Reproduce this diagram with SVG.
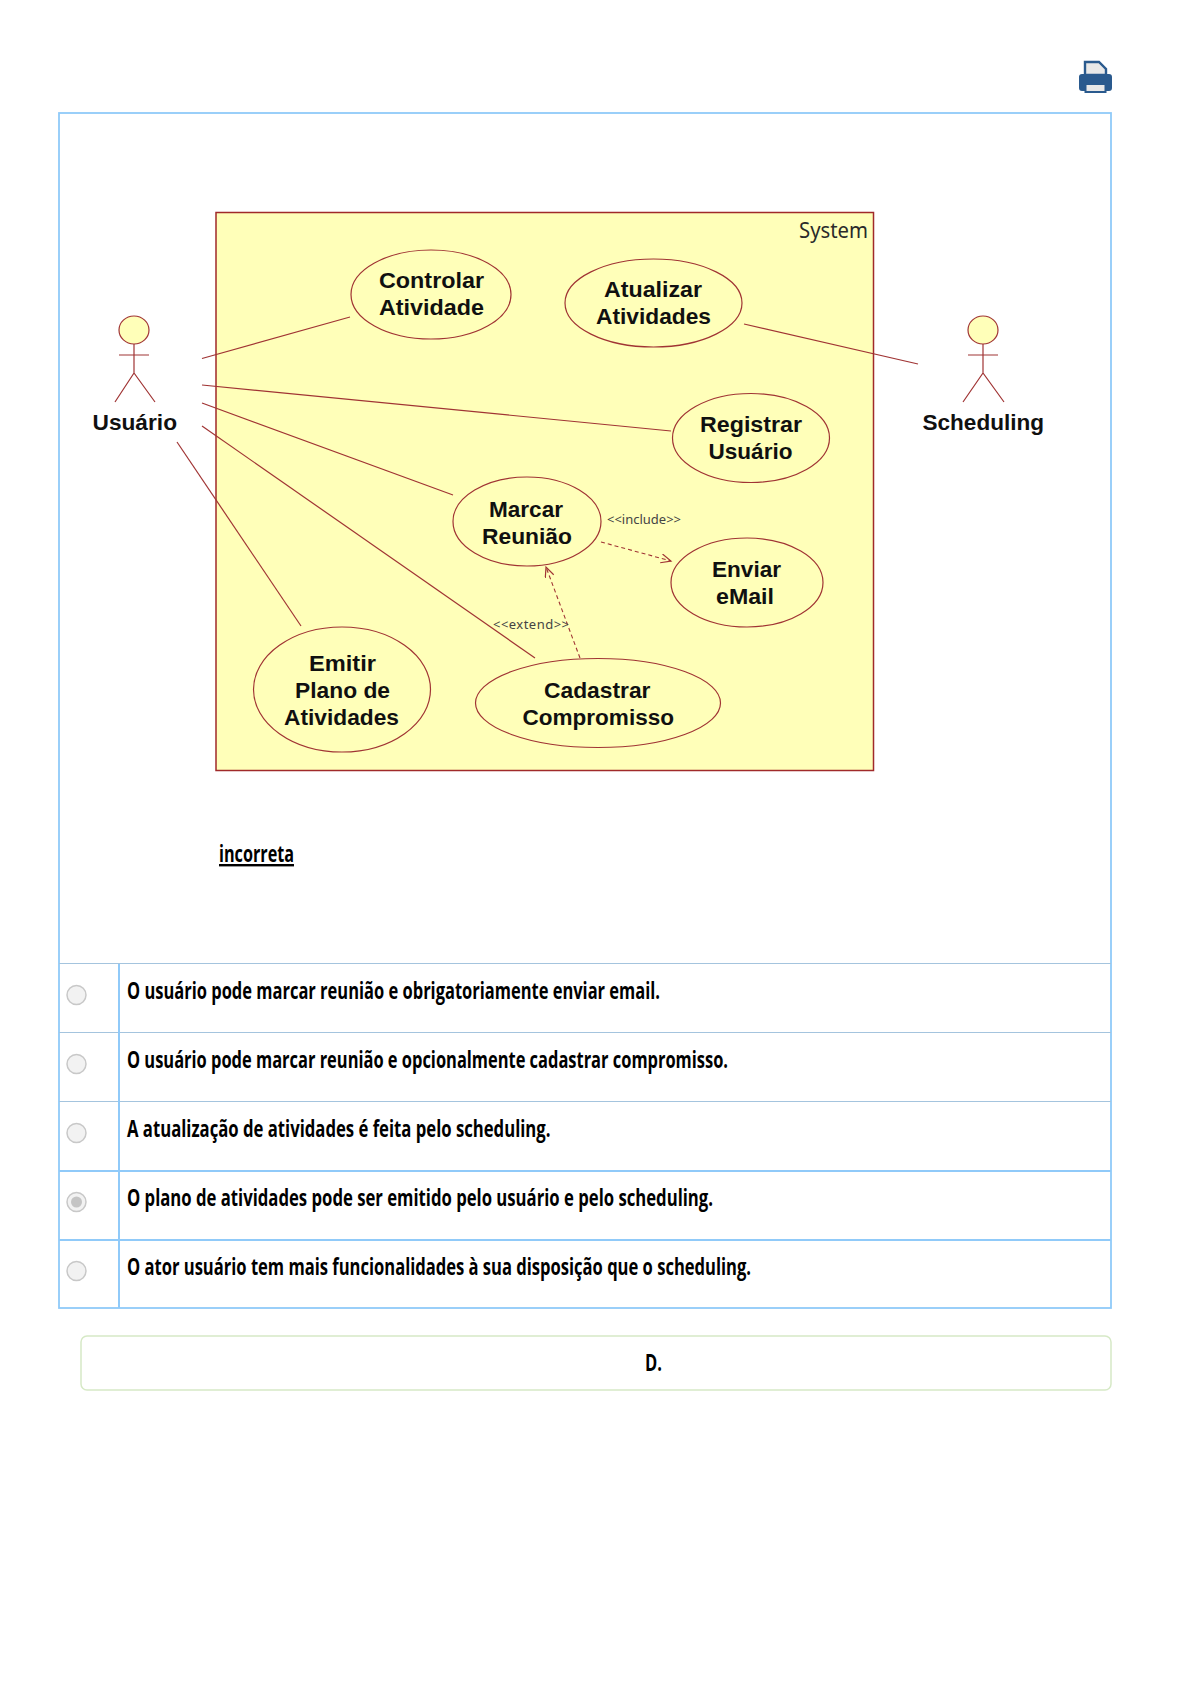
<svg xmlns="http://www.w3.org/2000/svg" width="1190" height="1684" viewBox="0 0 1190 1684">
<style>
.uc{fill:#ffffb9;stroke:#a03434;stroke-width:1.2}
.lbl{font-family:"Liberation Sans","Noto Sans",sans-serif;font-weight:700;font-size:22px;fill:#101010}
.ln{stroke:#a03434;stroke-width:1.2;fill:none}
.dash{stroke:#a03434;stroke-width:1.1;fill:none;stroke-dasharray:4 3}
.st{font-family:"Noto Sans",sans-serif;font-size:13px;fill:#444}
.sys{font-family:"Noto Sans",sans-serif;font-size:21px;fill:#2a2a2a}
.opt{font-family:"Open Sans","Noto Sans",sans-serif;font-weight:700;font-size:24px;fill:#000}
.row{stroke:#90caf9;stroke-width:2}
.rowt{stroke:#a4c4de;stroke-width:1}
.radio{fill:#f2f2f2;stroke:#c8c8c8;stroke-width:1.5}
</style>
<defs>
<marker id="open" markerWidth="14" markerHeight="12" refX="11" refY="5" orient="auto" markerUnits="userSpaceOnUse"><path d="M1 0.5 L11 5 L1 9.5" fill="none" stroke="#a03434" stroke-width="1.2"/></marker>
</defs>
<rect width="1190" height="1684" fill="#fff"/>

<g id="printer">
<path d="M1085 62h14l7 7v6h-21z" fill="#e8e8e8" stroke="#2a5a8e" stroke-width="2.4"/>
<path d="M1082 74h27q3 0 3 3v11q0 3-3 3h-3v-6h-21v6h-3q-3 0-3-3v-11q0-3 3-3z" fill="#2a5a8e"/>
<rect x="1085.500" y="84" width="20" height="8" fill="#e8e8e8" stroke="#2a5a8e" stroke-width="2"/>
</g>

<g id="panel">
<rect x="59" y="113" width="1052" height="1195" fill="#fff" stroke="#90caf9" stroke-width="1.8"/>
<line class="rowt" x1="59" y1="963.500" x2="1111" y2="963.500"/>
<line class="rowt" x1="59" y1="1032.500" x2="1111" y2="1032.500"/>
<line class="rowt" x1="59" y1="1101.500" x2="1111" y2="1101.500"/>
<line class="row" x1="59" y1="1171" x2="1111" y2="1171"/>
<line class="row" x1="59" y1="1240" x2="1111" y2="1240"/>
<line class="row" x1="119" y1="964" x2="119" y2="1308"/>
</g>

<g id="system">
<rect x="216" y="212.500" width="657.500" height="558" fill="#ffffb9" stroke="#a02a2a" stroke-width="1.5"/>
<text class="sys" x="799" y="238" textLength="69" lengthAdjust="spacingAndGlyphs">System</text>
</g>

<g id="connectors">
<line class="ln" x1="202" y1="358.500" x2="350" y2="317"/>
<line class="ln" x1="202" y1="385" x2="671" y2="431"/>
<line class="ln" x1="202" y1="403" x2="453" y2="495"/>
<line class="ln" x1="202" y1="426" x2="535" y2="658"/>
<line class="ln" x1="177" y1="442" x2="301" y2="626"/>
<line class="ln" x1="744" y1="324" x2="918" y2="364"/>
<line class="dash" x1="601" y1="542" x2="671" y2="561" marker-end="url(#open)"/>
<line class="dash" x1="580" y1="658" x2="546" y2="567" marker-end="url(#open)"/>
<text class="st" x="607" y="524" textLength="74" lengthAdjust="spacing">&lt;&lt;include&gt;&gt;</text>
<text class="st" x="493" y="629" textLength="76" lengthAdjust="spacing">&lt;&lt;extend&gt;&gt;</text>
</g>

<g id="actor-usuario">
<ellipse class="uc" cx="134" cy="330" rx="15" ry="14"/>
<path class="ln" d="M134 344V373M119 355H149M115 402L134 373L155 402"/>
<text class="lbl" x="92.500" y="430" textLength="84.500" lengthAdjust="spacingAndGlyphs">Usuário</text>
</g>
<g id="actor-scheduling">
<ellipse class="uc" cx="983" cy="330" rx="15" ry="14"/>
<path class="ln" d="M983 344V373M968 355H998M963 402L983 373L1004 402"/>
<text class="lbl" x="922.500" y="430" textLength="121.500" lengthAdjust="spacingAndGlyphs">Scheduling</text>
</g>

<g id="uc-controlar">
<ellipse class="uc" cx="431" cy="294.500" rx="80" ry="44.500"/>
<text class="lbl" x="379" y="288" textLength="105" lengthAdjust="spacingAndGlyphs">Controlar</text>
<text class="lbl" x="379" y="315" textLength="105" lengthAdjust="spacingAndGlyphs">Atividade</text>
</g>
<g id="uc-atualizar">
<ellipse class="uc" cx="653.500" cy="303" rx="88.500" ry="44"/>
<text class="lbl" x="604" y="297" textLength="98" lengthAdjust="spacingAndGlyphs">Atualizar</text>
<text class="lbl" x="596" y="324" textLength="115" lengthAdjust="spacingAndGlyphs">Atividades</text>
</g>
<g id="uc-registrar">
<ellipse class="uc" cx="751" cy="438" rx="78.500" ry="44.500"/>
<text class="lbl" x="700" y="432" textLength="102" lengthAdjust="spacingAndGlyphs">Registrar</text>
<text class="lbl" x="708.500" y="459" textLength="84" lengthAdjust="spacingAndGlyphs">Usuário</text>
</g>
<g id="uc-marcar">
<ellipse class="uc" cx="527" cy="521.500" rx="74" ry="44.500"/>
<text class="lbl" x="489" y="517" textLength="74" lengthAdjust="spacingAndGlyphs">Marcar</text>
<text class="lbl" x="482" y="543.500" textLength="90" lengthAdjust="spacingAndGlyphs">Reunião</text>
</g>
<g id="uc-enviar">
<ellipse class="uc" cx="747" cy="582.500" rx="76" ry="44.500"/>
<text class="lbl" x="712" y="577" textLength="69" lengthAdjust="spacingAndGlyphs">Enviar</text>
<text class="lbl" x="716" y="603.500" textLength="58" lengthAdjust="spacingAndGlyphs">eMail</text>
</g>
<g id="uc-emitir">
<ellipse class="uc" cx="342" cy="689.500" rx="88.500" ry="62.500"/>
<text class="lbl" x="309" y="671" textLength="67" lengthAdjust="spacingAndGlyphs">Emitir</text>
<text class="lbl" x="295" y="698" textLength="95" lengthAdjust="spacingAndGlyphs">Plano de</text>
<text class="lbl" x="284" y="725" textLength="115" lengthAdjust="spacingAndGlyphs">Atividades</text>
</g>
<g id="uc-cadastrar">
<ellipse class="uc" cx="598" cy="703" rx="122.500" ry="44.500"/>
<text class="lbl" x="544" y="698" textLength="106.500" lengthAdjust="spacingAndGlyphs">Cadastrar</text>
<text class="lbl" x="522.500" y="725" textLength="151.500" lengthAdjust="spacingAndGlyphs">Compromisso</text>
</g>

<text class="opt" x="219" y="862" textLength="75" lengthAdjust="spacingAndGlyphs" text-decoration="underline">incorreta</text>

<g id="option-a">
<circle class="radio" cx="76.500" cy="995" r="9.500"/>
<text class="opt" x="127" y="999" textLength="533" lengthAdjust="spacingAndGlyphs">O usuário pode marcar reunião e obrigatoriamente enviar email.</text>
</g>
<g id="option-b">
<circle class="radio" cx="76.500" cy="1064" r="9.500"/>
<text class="opt" x="127" y="1068" textLength="601" lengthAdjust="spacingAndGlyphs">O usuário pode marcar reunião e opcionalmente cadastrar compromisso.</text>
</g>
<g id="option-c">
<circle class="radio" cx="76.500" cy="1133" r="9.500"/>
<text class="opt" x="127" y="1137" textLength="423.500" lengthAdjust="spacingAndGlyphs">A atualização de atividades é feita pelo scheduling.</text>
</g>
<g id="option-d">
<circle class="radio" cx="76.500" cy="1202" r="9.500"/>
<circle cx="76.500" cy="1202" r="5.500" fill="#c4c4c4"/>
<text class="opt" x="127" y="1206" textLength="586" lengthAdjust="spacingAndGlyphs">O plano de atividades pode ser emitido pelo usuário e pelo scheduling.</text>
</g>
<g id="option-e">
<circle class="radio" cx="76.500" cy="1271" r="9.500"/>
<text class="opt" x="127" y="1275" textLength="624" lengthAdjust="spacingAndGlyphs">O ator usuário tem mais funcionalidades à sua disposição que o scheduling.</text>
</g>

<g id="answer">
<rect x="81" y="1336" width="1030" height="54" rx="6" fill="#fff" stroke="#d6e9c6" stroke-width="1.5"/>
<text class="opt" x="645" y="1371" textLength="17" lengthAdjust="spacingAndGlyphs">D.</text>
</g>
</svg>
